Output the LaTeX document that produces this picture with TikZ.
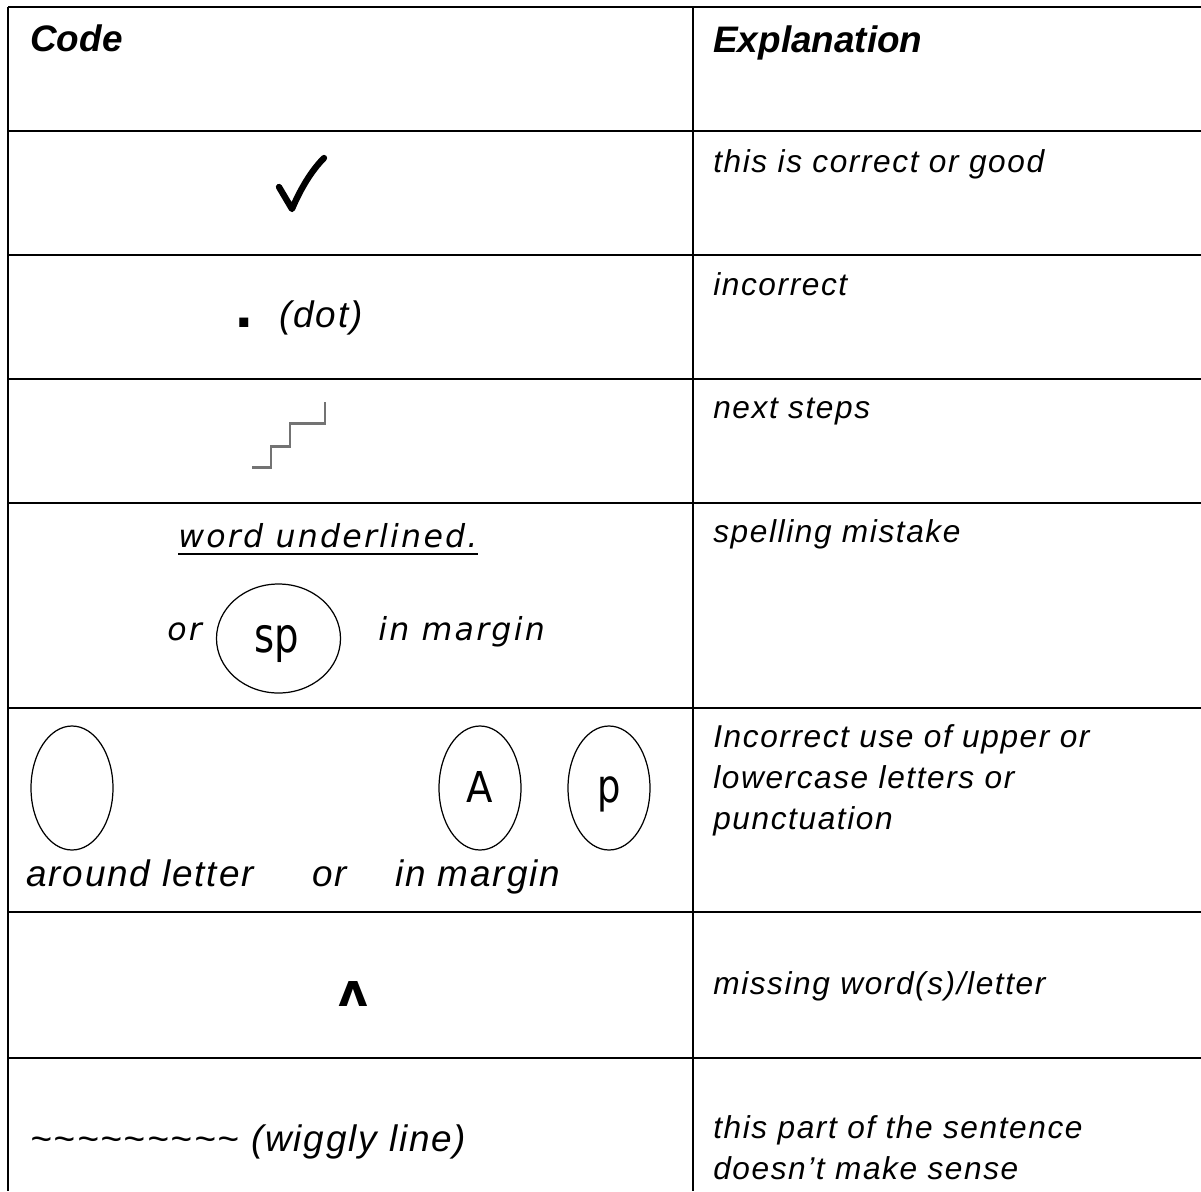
\documentclass[tikz,border=0pt]{standalone}
\usepackage{fontspec}
\setmainfont{Liberation Sans}
\newfontfamily\arialls[LetterSpace=5]{Liberation Sans}
\newfontfamily\verdls[LetterSpace=7]{DejaVu Sans}
\newfontfamily\dejavu{DejaVu Sans}
\usepackage{tikz}
\tikzset{
  rule/.style={line width=0.85pt},
  ring/.style={line width=0.7pt},
  tick/.style={line width=3.6pt, line cap=round, line join=round},
  stairs/.style={line width=1.7pt, black!55},
  head/.style={anchor=base west, inner sep=0pt, font=\bfseries\itshape\fontsize{21}{25}\selectfont},
  explain/.style={anchor=base west, inner sep=0pt, font=\arialls\itshape\fontsize{18}{23}\selectfont},
  codetext/.style={anchor=base west, inner sep=0pt, font=\arialls\itshape\fontsize{21}{25}\selectfont},
  margintext/.style={anchor=base west, inner sep=0pt, font=\verdls\itshape\fontsize{18}{22}\selectfont},
  ringletter/.style={anchor=base, inner sep=0pt, font=\dejavu\fontsize{21}{25}\selectfont},
}

\begin{document}
\begin{tikzpicture}[x=0.02cm, y=-0.02cm]
    \useasboundingbox (0,0) rectangle (1201,1191);

    % table rules
    \draw[rule] (8,7) -- (1201,7);
    \draw[rule] (8,7) -- (8,1191);
    \draw[rule] (693,7) -- (693,1191);
    \foreach \y in {131,255,379,503,708,912,1058}
        \draw[rule] (8,\y) -- (1201,\y);

    % headers
    \node[head] at (30, 51)  (code)  {Code};
    \node[head] at (713, 52) (expl)  {Explanation};

    % code column
    \draw[tick] (279,187) -- (292,209) .. controls (300,190) and (311,171) .. (324,158);

    \node[anchor=base, inner sep=0pt, font=\bfseries\fontsize{36}{36}\selectfont] at (244.5, 327) (dot) {.};
    \node[codetext] at (279, 327) (dotlbl) {(dot)};

    \draw[stairs] (252,467) -| (271,446) -| (290,423) -| (325,402);

    \node[margintext] at (178, 547) (under) {word underlined.};
    \draw[line width=0.8pt] ([yshift=-0.14cm]under.base west) -- ([yshift=-0.14cm]under.base east);
    \node[margintext] at (167, 640) (or1) {or};
    \draw[ring] (278.5,638.5) ellipse [x radius=62, y radius=54.5];
    \node[ringletter, font=\dejavu\fontsize{22}{26}\selectfont] at (277, 652) (sp) {\scalebox{1}[1.25]{sp}};
    \node[margintext] at (378, 640) (marg1) {in margin};

    \draw[ring] (72,788) ellipse [x radius=41, y radius=62];
    \draw[ring] (480,788) ellipse [x radius=41, y radius=62];
    \draw[ring] (609,788) ellipse [x radius=41, y radius=62];
    \node[ringletter, font=\dejavu\fontsize{22}{26}\selectfont] at (480, 802) (capA) {\scalebox{1}[1.1]{A}};
    \node[ringletter] at (609, 802) (punc) {\scalebox{1}[1.25]{p}};
    \node[codetext] at (26, 886)  (around) {around letter};
    \node[codetext] at (312, 886) (or2)    {or};
    \node[codetext] at (395, 886) (marg2)  {in margin};

    \node[anchor=base, inner sep=0pt, font=\dejavu\bfseries\fontsize{26}{28}\selectfont] at (353, 1006) (caret) {ʌ};

    \node[codetext] at (30, 1151) (wiggle) {\textasciitilde\textasciitilde\textasciitilde\textasciitilde\textasciitilde\textasciitilde\textasciitilde\textasciitilde\textasciitilde{} (wiggly line)};

    % explanation column
    \node[explain] at (713, 172)  (good)    {this is correct or good};
    \node[explain] at (713, 295)  (wrong)   {incorrect};
    \node[explain] at (713, 418)  (next)    {next steps};
    \node[explain] at (713, 542)  (spell)   {spelling mistake};
    \node[explain] at (713, 747)  (case1)   {Incorrect use of upper or};
    \node[explain] at (713, 788)  (case2)   {lowercase letters or};
    \node[explain] at (713, 829)  (case3)   {punctuation};
    \node[explain] at (713, 994)  (missing) {missing word(s)/letter};
    \node[explain] at (713, 1138) (sense1)  {this part of the sentence};
    \node[explain] at (713, 1179) (sense2)  {doesn’t make sense};
\end{tikzpicture}
\end{document}
